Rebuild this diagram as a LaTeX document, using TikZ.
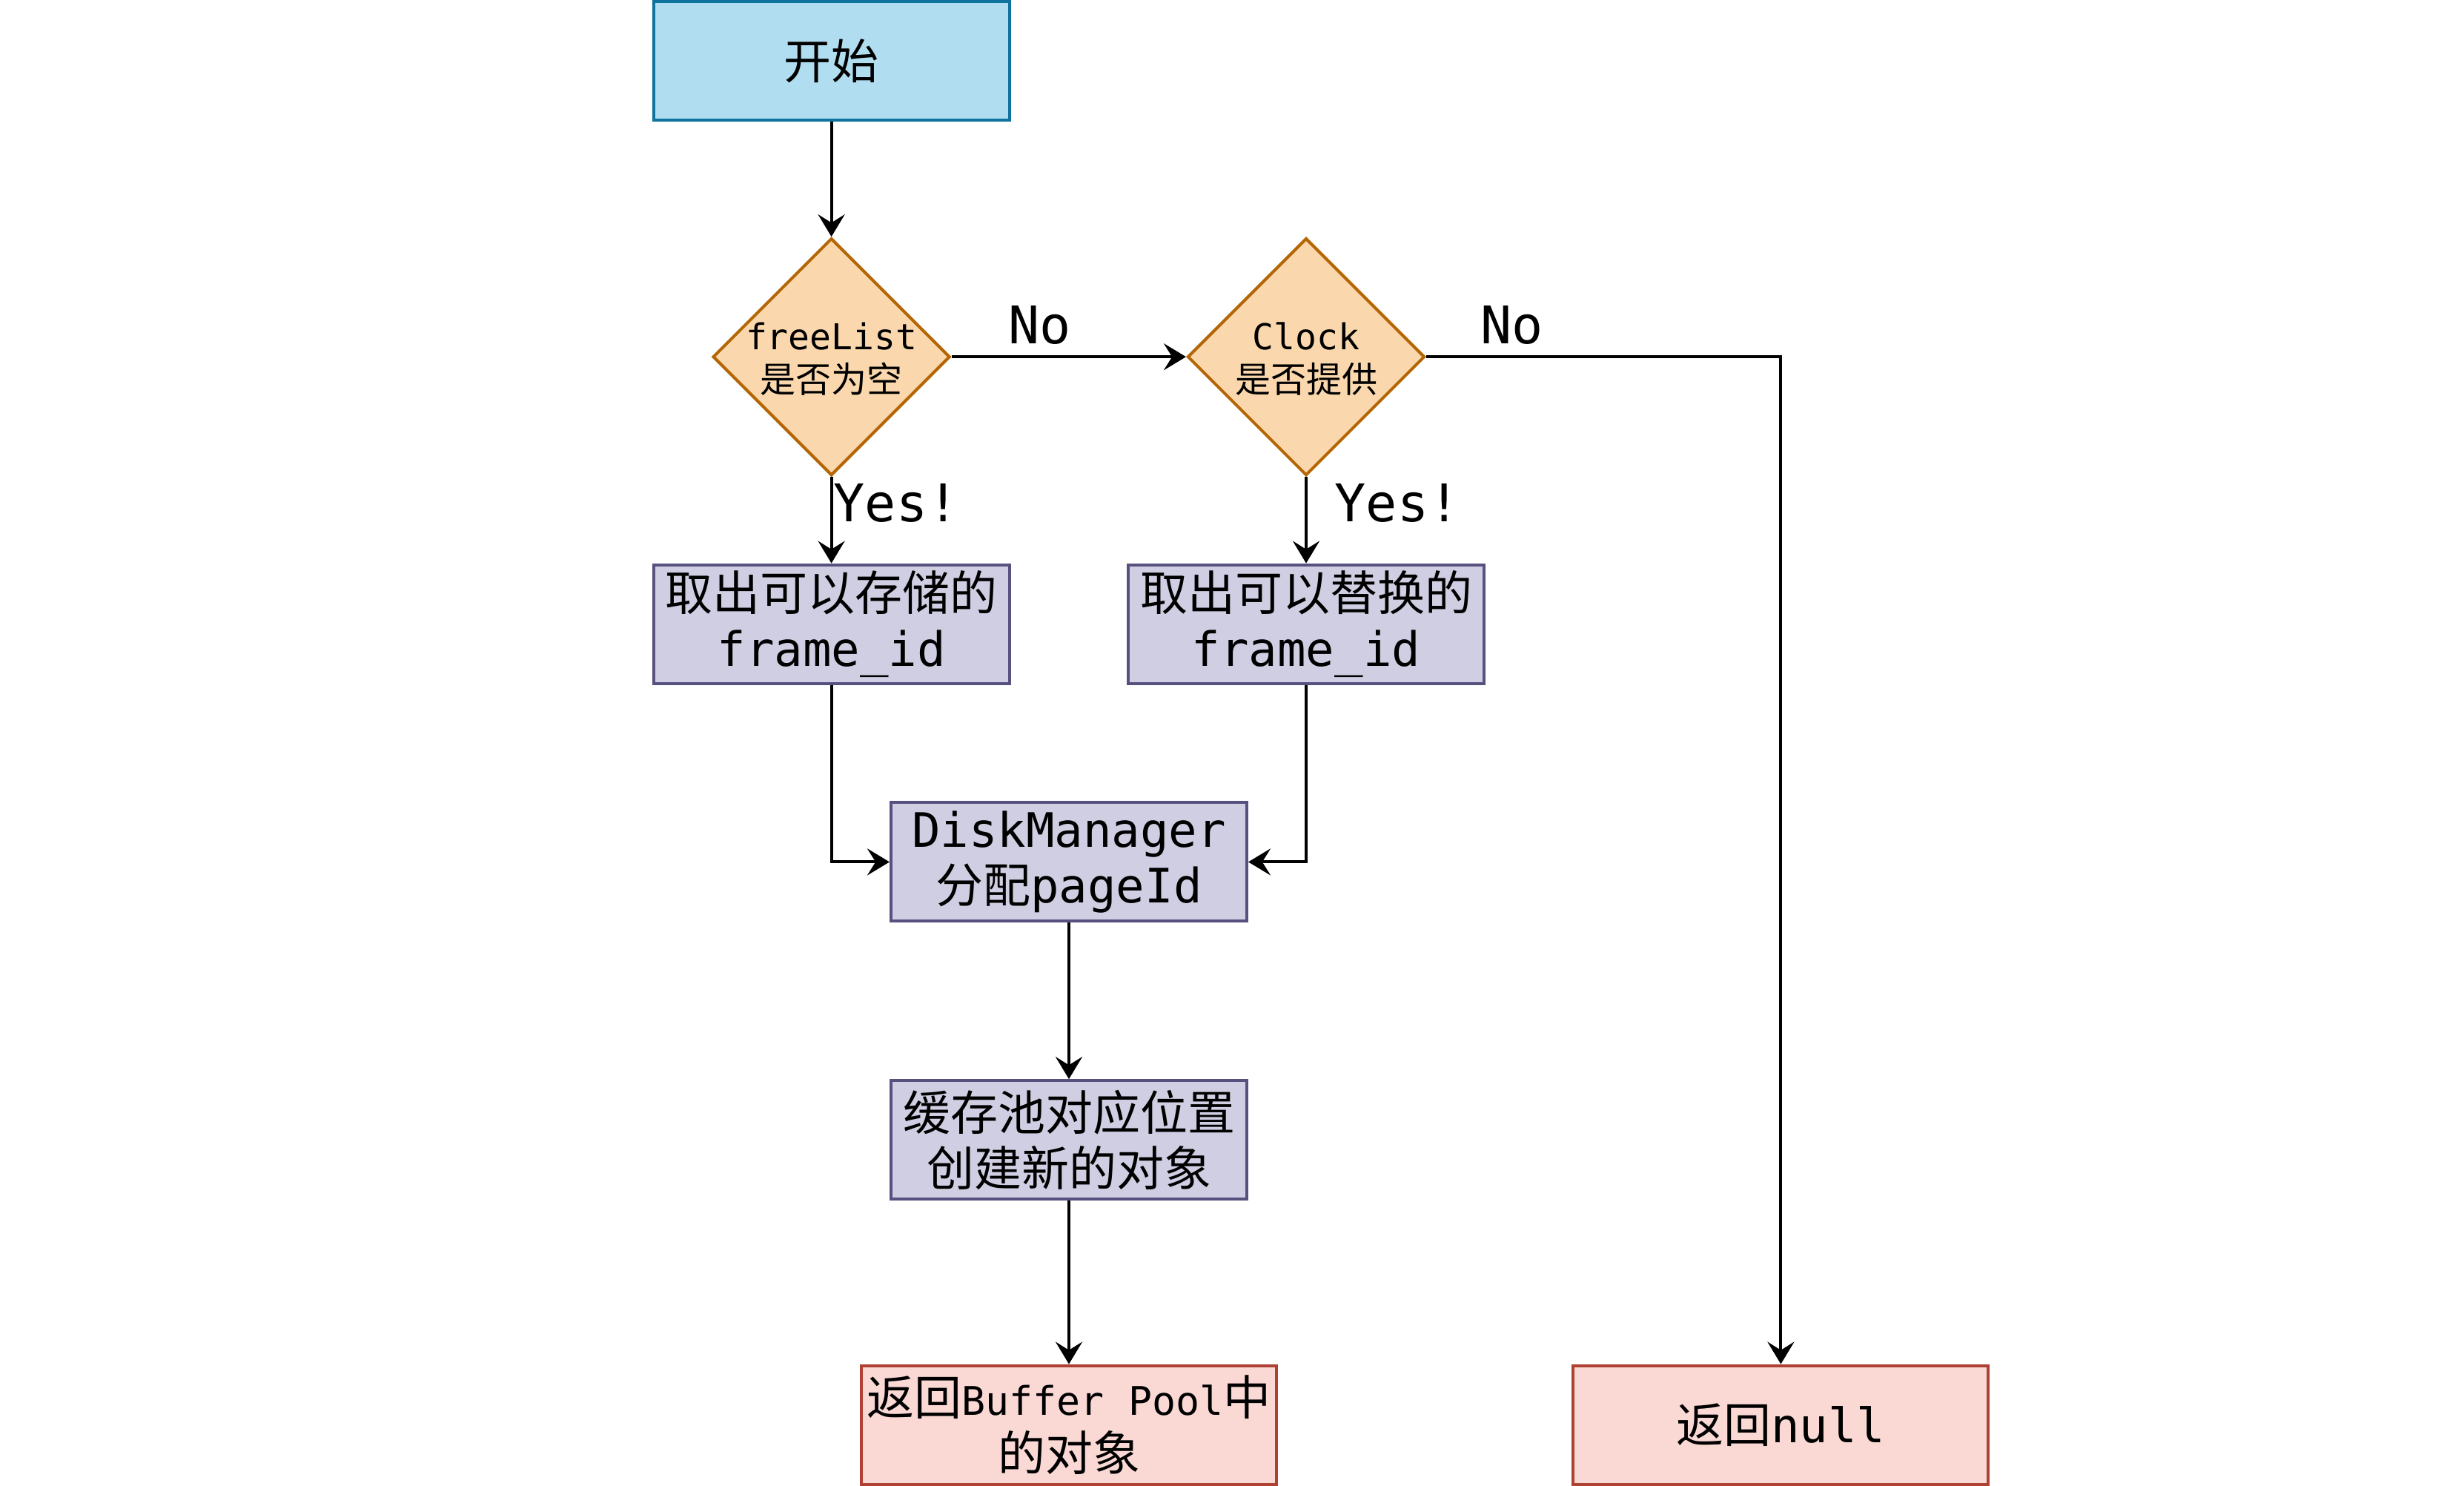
\documentclass[tikz,border=0pt]{standalone}
\usepackage{fontspec}
\setmainfont{DejaVu Sans Mono}
\newfontfamily\cjk{Noto Sans CJK SC}
\usetikzlibrary{shapes.geometric,arrows.meta}
\definecolor{startfill}{HTML}{B1DDF0}
\definecolor{startline}{HTML}{10739E}
\definecolor{diafill}{HTML}{FAD7AC}
\definecolor{dialine}{HTML}{B46504}
\definecolor{purfill}{HTML}{D0CEE2}
\definecolor{purline}{HTML}{56517E}
\definecolor{redfill}{HTML}{FAD9D5}
\definecolor{redline}{HTML}{AE4132}
\tikzset{
  boxbase/.style={draw, line width=1pt, minimum width=120pt, minimum height=40pt,
    inner sep=0pt, align=center, font=\fontsize{16}{18.8}\selectfont},
  startbox/.style={boxbase, fill=startfill, draw=startline},
  purbox/.style={boxbase, fill=purfill, draw=purline},
  redbox/.style={boxbase, fill=redfill, draw=redline, minimum width=140pt},
  dia/.style={diamond, draw=dialine, fill=diafill, line width=1pt, aspect=1,
    minimum width=80pt, minimum height=80pt, inner sep=0pt},
  diatext/.style={align=center, inner sep=0pt, font=\fontsize{12}{14.5}\selectfont},
  lbl/.style={inner sep=0pt, font=\fontsize{17.5}{20}\selectfont},
  arr/.style={line width=1pt, -{Stealth[length=7.5pt, width=9pt, inset=2.8pt]}}
}
\begin{document}
\begin{tikzpicture}[x=1pt,y=-1pt]
\useasboundingbox (0,0) rectangle (831,501);

\node[startbox] (start) at (280.4,20.5) {\cjk 开始};

\node[dia] (d1) at (280.4,120.3) {};
\node[diatext] (d1t) at (280.4,121) {freeList\\{\cjk 是否为空}};
\node[dia] (d2) at (440.5,120.3) {};
\node[diatext] (d2t) at (440.5,121) {Clock\\{\cjk 是否提供}};

\node[purbox] (b1) at (280.4,210.4) {{\cjk 取出可以存储的}\\frame\_id};
\node[purbox] (b2) at (440.5,210.4) {{\cjk 取出可以替换的}\\frame\_id};

\node[purbox] (dm) at (360.5,290.6) {DiskManager\\{\cjk 分配}pageId};
\node[purbox] (cp) at (360.5,384.3) {{\cjk 缓存池对应位置}\\{\cjk 创建新的对象}};

\node[redbox] (ret) at (360.5,480.4) {{\cjk 返回}{\fontsize{13.3}{18.8}\selectfont Buffer Pool}{\cjk 中}\\{\cjk 的对象}};
\node[redbox] (null) at (600.6,480.4) {{\cjk 返回}null};

\draw[arr] (start) -- (d1);
\draw[arr] (d1) -- (d2);
\draw[arr] (d2.east) -| (null.north);
\draw[arr] (d1) -- (b1);
\draw[arr] (d2) -- (b2);
\draw[arr] (b1.south) |- (dm.west);
\draw[arr] (b2.south) |- (dm.east);
\draw[arr] (dm) -- (cp);
\draw[arr] (cp) -- (ret);

\node[lbl, anchor=base] (no1) at (350.6,115.8) {No};
\node[lbl, anchor=base] (no2) at (509.9,115.8) {No};
\node[lbl, anchor=base west] (yes1) at (281,175.8) {Yes!};
\node[lbl, anchor=base west] (yes2) at (450,175.8) {Yes!};
\end{tikzpicture}
\end{document}
